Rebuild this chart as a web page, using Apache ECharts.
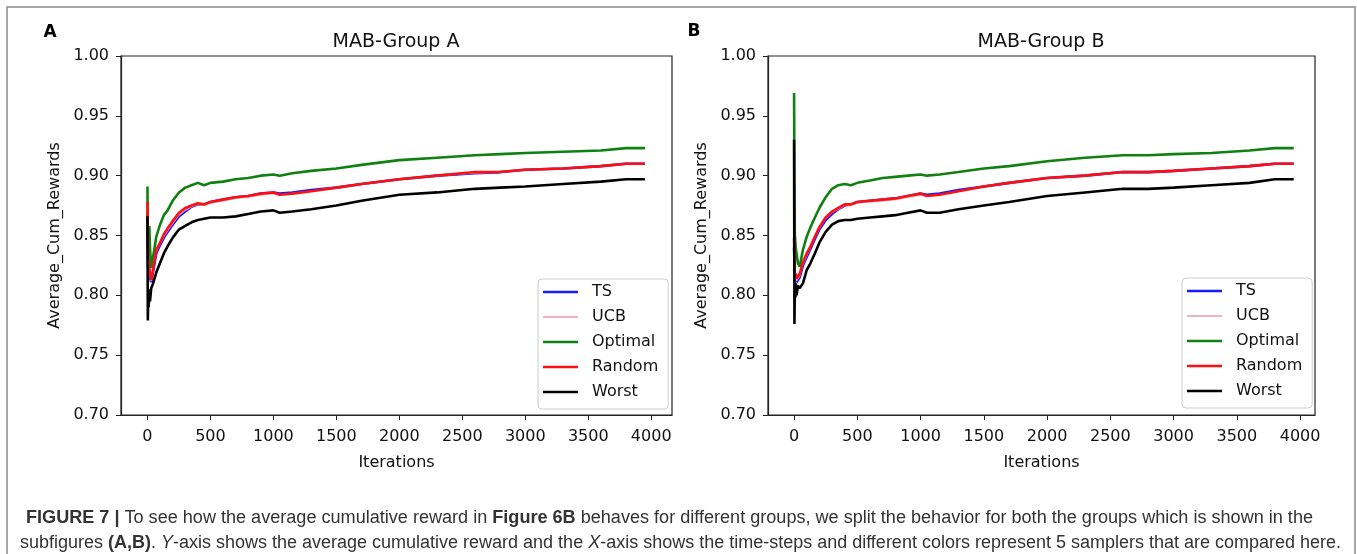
<!DOCTYPE html>
<html>
<head>
<meta charset="utf-8">
<script src="https://cdn.jsdelivr.net/npm/echarts@6/dist/echarts.min.js"></script>
<style>
  html, body { margin: 0; padding: 0; background: #fff; }
  #chart { width: 1357px; height: 554px; }
</style>
</head>
<body>
<div id="chart"></div>
<script>
const iters = [0, 3, 6, 10, 15, 20, 30, 45, 70, 100, 130, 160, 200, 250, 300, 350, 400, 450, 500, 600,
  700, 800, 900, 1000, 1050, 1150, 1300, 1500, 1700, 2000, 2300, 2600, 2800, 3000, 3300, 3600, 3800, 3950];
const xTicks = [0, 500, 1000, 1500, 2000, 2500, 3000, 3500, 4000];
const seriesNames = ['TS', 'UCB', 'Optimal', 'Random', 'Worst'];

// Group A
const tsA = [0.870, 0.840, 0.822, 0.826, 0.818, 0.815, 0.811, 0.820, 0.835, 0.842, 0.848, 0.853, 0.859, 0.866, 0.870, 0.874, 0.876, 0.876, 0.878, 0.880,
  0.882, 0.883, 0.885, 0.886, 0.885, 0.886, 0.888, 0.890, 0.893, 0.897, 0.900, 0.902, 0.903, 0.905, 0.906, 0.908, 0.910, 0.910];
const ucbA = [0.874, 0.842, 0.824, 0.828, 0.820, 0.816, 0.812, 0.821, 0.836, 0.843, 0.849, 0.854, 0.860, 0.867, 0.871, 0.874, 0.876, 0.875, 0.877, 0.879,
  0.881, 0.882, 0.884, 0.885, 0.884, 0.885, 0.887, 0.890, 0.893, 0.897, 0.900, 0.902, 0.903, 0.905, 0.906, 0.908, 0.910, 0.910];
const optimalA = [0.891, 0.850, 0.838, 0.845, 0.858, 0.840, 0.823, 0.832, 0.849, 0.859, 0.867, 0.871, 0.879, 0.886, 0.890, 0.892, 0.894, 0.892, 0.894, 0.895,
  0.897, 0.898, 0.900, 0.901, 0.900, 0.902, 0.904, 0.906, 0.909, 0.913, 0.915, 0.917, 0.918, 0.919, 0.920, 0.921, 0.923, 0.923];
const randomA = [0.878, 0.845, 0.826, 0.830, 0.822, 0.818, 0.813, 0.822, 0.838, 0.844, 0.851, 0.856, 0.862, 0.869, 0.873, 0.875, 0.877, 0.876, 0.878, 0.880,
  0.882, 0.883, 0.885, 0.886, 0.884, 0.885, 0.887, 0.890, 0.893, 0.897, 0.900, 0.903, 0.903, 0.905, 0.906, 0.908, 0.910, 0.910];
const worstA = [0.866, 0.779, 0.800, 0.790, 0.805, 0.795, 0.806, 0.810, 0.819, 0.827, 0.835, 0.841, 0.848, 0.855, 0.858, 0.861, 0.863, 0.864, 0.865, 0.865,
  0.866, 0.868, 0.870, 0.871, 0.869, 0.870, 0.872, 0.875, 0.879, 0.884, 0.886, 0.889, 0.890, 0.891, 0.893, 0.895, 0.897, 0.897];

// Group B
const tsB = [0.840, 0.825, 0.816, 0.812, 0.815, 0.811, 0.810, 0.815, 0.825, 0.832, 0.839, 0.846, 0.855, 0.863, 0.868, 0.872, 0.875, 0.876, 0.878, 0.879,
  0.880, 0.881, 0.883, 0.885, 0.884, 0.885, 0.888, 0.891, 0.894, 0.898, 0.900, 0.903, 0.903, 0.904, 0.906, 0.908, 0.910, 0.910];
const ucbB = [0.844, 0.828, 0.818, 0.813, 0.816, 0.812, 0.811, 0.816, 0.826, 0.833, 0.840, 0.847, 0.856, 0.864, 0.869, 0.872, 0.875, 0.875, 0.877, 0.878,
  0.879, 0.880, 0.882, 0.884, 0.883, 0.884, 0.887, 0.891, 0.894, 0.898, 0.900, 0.903, 0.903, 0.904, 0.906, 0.908, 0.910, 0.910];
const optimalB = [0.969, 0.900, 0.851, 0.845, 0.838, 0.835, 0.827, 0.824, 0.838, 0.849, 0.857, 0.864, 0.873, 0.882, 0.889, 0.892, 0.893, 0.892, 0.894, 0.896,
  0.898, 0.899, 0.900, 0.901, 0.900, 0.901, 0.903, 0.906, 0.908, 0.912, 0.915, 0.917, 0.917, 0.918, 0.919, 0.921, 0.923, 0.923];
const randomB = [0.848, 0.830, 0.820, 0.815, 0.818, 0.814, 0.813, 0.818, 0.828, 0.835, 0.841, 0.848, 0.857, 0.865, 0.870, 0.873, 0.876, 0.876, 0.878, 0.879,
  0.880, 0.881, 0.883, 0.885, 0.883, 0.884, 0.887, 0.891, 0.894, 0.898, 0.900, 0.903, 0.903, 0.904, 0.906, 0.908, 0.910, 0.910];
const worstB = [0.930, 0.776, 0.805, 0.798, 0.810, 0.800, 0.808, 0.806, 0.810, 0.821, 0.827, 0.834, 0.844, 0.853, 0.859, 0.862, 0.863, 0.863, 0.864, 0.865,
  0.866, 0.867, 0.869, 0.871, 0.869, 0.869, 0.872, 0.875, 0.878, 0.883, 0.886, 0.889, 0.889, 0.890, 0.892, 0.894, 0.897, 0.897];

const captionLine1 = '{b|FIGURE 7 |} To see how the average cumulative reward in {b|Figure 6B} behaves for different groups, we split the behavior for both the groups which is shown in the';
const captionLine2 = 'subfigures {b|(A,B)}. {i|Y}-axis shows the average cumulative reward and the {i|X}-axis shows the time-steps and different colors represent 5 samplers that are compared here.';

const FONT = 'DejaVu Sans';
const colors = { TS: '#1a1aff', UCB: '#ee9aac', Optimal: '#108010', Random: '#ff1010', Worst: '#000000' };
const widths = { TS: 2.6, UCB: 1.2, Optimal: 2.6, Random: 2.6, Worst: 2.6 };

const chart = echarts.init(document.getElementById('chart'));

function makeSeries(name, values, idx) {
  return {
    name: name,
    type: 'line',
    xAxisIndex: idx,
    yAxisIndex: idx,
    data: iters.map((x, i) => [x, values[i]]),
    showSymbol: false,
    symbol: 'none',
    lineStyle: { color: colors[name], width: widths[name] },
    itemStyle: { color: colors[name] },
    animation: false
  };
}

function xAxis(idx, min, max) {
  return {
    gridIndex: idx,
    type: 'value',
    min: min,
    max: max,
    axisLine: { onZero: false, lineStyle: { color: '#222', width: 1.2 } },
    axisTick: { customValues: xTicks, length: 5, lineStyle: { color: '#222' } },
    axisLabel: { customValues: xTicks, formatter: v => String(v), fontSize: 16, fontFamily: FONT, color: '#111', margin: 14 },
    splitLine: { show: false },
    name: 'Iterations',
    nameLocation: 'middle',
    nameGap: 40,
    nameTextStyle: { fontSize: 16, fontFamily: FONT, color: '#111' }
  };
}

function yAxis(idx) {
  return {
    gridIndex: idx,
    type: 'value',
    min: 0.7,
    max: 1.0,
    interval: 0.05,
    axisLine: { show: true, onZero: false, lineStyle: { color: '#222', width: 1.2 } },
    axisTick: { show: true, length: 5, lineStyle: { color: '#222' } },
    axisLabel: { formatter: v => v.toFixed(2), fontSize: 16, fontFamily: FONT, color: '#111', margin: 12 },
    splitLine: { show: false },
    name: 'Average_Cum_Rewards',
    nameLocation: 'middle',
    nameGap: 58,
    nameTextStyle: { fontSize: 16, fontFamily: FONT, color: '#111' }
  };
}

// legend swatches: plain line strokes, thin one for UCB
function legendItems() {
  return seriesNames.map(n => ({
    name: n,
    icon: n === 'UCB' ? 'path://M0,0L35,0L35,1.4L0,1.4Z' : 'path://M0,0L35,0L35,2.6L0,2.6Z'
  }));
}

function legend(left, top) {
  return {
    data: legendItems(),
    orient: 'vertical',
    left: left,
    top: top,
    padding: [5, 10, 9, 5],
    itemWidth: 35,
    itemHeight: 16,
    itemGap: 9,
    symbolKeepAspect: true,
    borderColor: '#cccccc',
    borderWidth: 1,
    borderRadius: 4,
    backgroundColor: 'rgba(255,255,255,0.85)',
    selectedMode: false,
    textStyle: { fontSize: 16, fontFamily: FONT, color: '#111', padding: [0, 0, 0, 9] }
  };
}

const captionRich = {
  b: { fontWeight: 'bold', fontSize: 18, fontFamily: 'Liberation Sans', fill: '#333' },
  i: { fontStyle: 'italic', fontSize: 18, fontFamily: 'Liberation Sans', fill: '#333' }
};

function captionText(text, x, y, targetWidth) {
  const style = {
    text: text,
    rich: captionRich,
    fontSize: 18,
    fontFamily: 'Liberation Sans',
    fill: '#333',
    verticalAlign: 'middle'
  };
  const probe = new echarts.graphic.Text({ style: style });
  const w = probe.getBoundingRect().width;
  return {
    type: 'text',
    x: x,
    y: y,
    scaleX: targetWidth / w,
    style: style
  };
}

const option = {
  animation: false,
  grid: [
    { left: 121, top: 56, width: 551, height: 359, show: true, borderColor: '#222', borderWidth: 1.2, containLabel: false },
    { left: 768, top: 56, width: 547, height: 359, show: true, borderColor: '#222', borderWidth: 1.2, containLabel: false }
  ],
  xAxis: [xAxis(0, -210, 4165), xAxis(1, -206, 4118)],
  yAxis: [yAxis(0), yAxis(1)],
  legend: [legend(538, 279), legend(1182, 278)],
  series: [
    makeSeries('TS', tsA, 0),
    makeSeries('UCB', ucbA, 0),
    makeSeries('Optimal', optimalA, 0),
    makeSeries('Random', randomA, 0),
    makeSeries('Worst', worstA, 0),
    makeSeries('TS', tsB, 1),
    makeSeries('UCB', ucbB, 1),
    makeSeries('Optimal', optimalB, 1),
    makeSeries('Random', randomB, 1),
    makeSeries('Worst', worstB, 1)
  ],
  graphic: [
    { type: 'rect', shape: { x: 7, y: 7, width: 1348, height: 600 }, style: { fill: 'none', stroke: '#8a8a8a', lineWidth: 1.5 }, silent: true },
    { type: 'text', x: 396, y: 42, style: { text: 'MAB-Group A', fontSize: 19, fontFamily: FONT, fill: '#111', align: 'center', verticalAlign: 'middle' } },
    { type: 'text', x: 1041, y: 42, style: { text: 'MAB-Group B', fontSize: 19, fontFamily: FONT, fill: '#111', align: 'center', verticalAlign: 'middle' } },
    { type: 'text', x: 50, y: 33, style: { text: 'A', fontSize: 17, fontWeight: 'bold', fontFamily: FONT, fill: '#000', align: 'center', verticalAlign: 'middle' } },
    { type: 'text', x: 694, y: 32, style: { text: 'B', fontSize: 17, fontWeight: 'bold', fontFamily: FONT, fill: '#000', align: 'center', verticalAlign: 'middle' } },
    captionText(captionLine1, 26, 518, 1287),
    captionText(captionLine2, 20, 543, 1321)
  ]
};

chart.setOption(option);
</script>
</body>
</html>
